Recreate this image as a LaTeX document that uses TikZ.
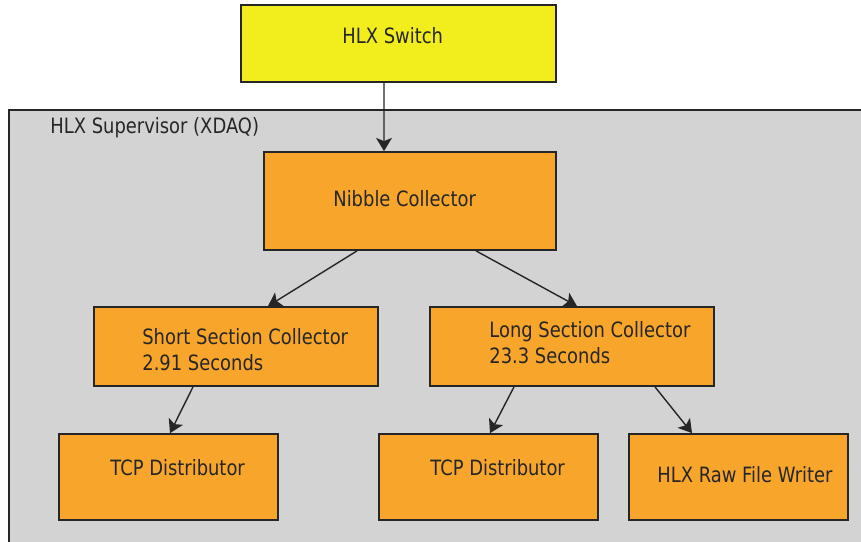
\documentclass[tikz,border=0pt]{standalone}
\usepackage{fontspec}
\setmainfont{DejaVu Sans}[FakeStretch=0.85]
\usepackage{tikz}
\usetikzlibrary{arrows.meta}
\definecolor{swyellow}{HTML}{F2EE1E}
\definecolor{boxorange}{HTML}{F8A62B}
\definecolor{supgray}{HTML}{D3D3D3}
\definecolor{edgegray}{HTML}{262626}
\tikzset{box/.style={draw=edgegray, line width=1pt, fill=boxorange, inner sep=0pt}}
\tikzset{txt/.style={inner sep=0pt, align=left, text=edgegray,
      font=\fontsize{12}{14.7}\selectfont}}
\tikzset{link/.style={draw=edgegray, line width=0.8pt,
      -{Stealth[length=7.5pt, width=9pt, inset=1.8pt]}}}

\begin{document}
\begin{tikzpicture}[x=0.02cm, y=-0.02cm]
		\useasboundingbox (0,0) rectangle (861,541);
		\clip (0,0) rectangle (861,541);
		% supervisor area
		\draw[draw=edgegray, line width=1pt, fill=supgray] (9,110) rectangle (880,560);
		\node[txt, anchor=base west] (suptxt) at (50,133) {HLX Supervisor (XDAQ)};
		% boxes
		\node[box, fill=swyellow, minimum width=6.30cm, minimum height=1.54cm] (switch) at (398.5,43.5) {};
		\node[box, minimum width=5.84cm, minimum height=1.96cm] (nibble) at (410,201) {};
		\node[box, minimum width=5.68cm, minimum height=1.58cm] (short) at (236,346.5) {};
		\node[box, minimum width=5.68cm, minimum height=1.58cm] (long) at (572,346.5) {};
		\node[box, minimum width=4.38cm, minimum height=1.72cm] (tcpa) at (168.5,477) {};
		\node[box, minimum width=4.38cm, minimum height=1.72cm] (tcpb) at (488.5,477) {};
		\node[box, minimum width=4.38cm, minimum height=1.72cm] (writer) at (738.5,477) {};
		% texts (base = last line)
		\node[txt, anchor=base west] (switchtxt) at (342,43) {HLX Switch};
		\node[txt, anchor=base west] (nibbletxt) at (333,206) {Nibble Collector};
		\node[txt, anchor=base west] (shorttxt) at (142,370) {Short Section Collector\\2.91 Seconds};
		\node[txt, anchor=base west] (longtxt) at (489,363) {Long Section Collector\\23.3 Seconds};
		\node[txt, anchor=base west] (tcpatxt) at (110,475) {TCP Distributor};
		\node[txt, anchor=base west] (tcpbtxt) at (430,475) {TCP Distributor};
		\node[txt, anchor=base west] (writertxt) at (657,482) {HLX Raw File Writer};
		% links
		\draw[link] ([xshift=-0.29cm]switch.south) -- ([xshift=-0.52cm]nibble.north);
		\draw[link] ([xshift=-1.06cm]nibble.south) -- ([xshift=0.64cm]short.north);
		\draw[link] ([xshift=1.32cm]nibble.south) -- ([xshift=0.10cm]long.north);
		\draw[link] ([xshift=-0.86cm]short.south) -- ([xshift=0.03cm]tcpa.north);
		\draw[link] ([xshift=-1.16cm]long.south) -- ([xshift=0.03cm]tcpb.north);
		\draw[link] ([xshift=1.66cm]long.south) -- ([xshift=-0.93cm]writer.north);
\end{tikzpicture}
\end{document}
